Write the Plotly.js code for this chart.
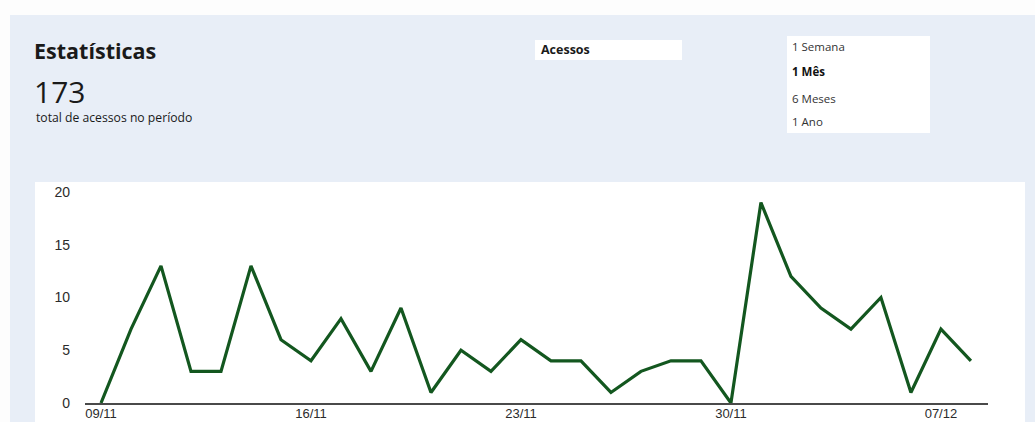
<!DOCTYPE html>
<html>
<head>
<meta charset="utf-8">
<script src="https://cdn.plot.ly/plotly-3.0.1.min.js"></script>
<style>
  html, body { margin: 0; padding: 0; background: #ffffff; }
  #chart { width: 1035px; height: 422px; }
</style>
</head>
<body>
<div id="chart"></div>
<script>
// ---- data ----
const dates = [
  '2023-11-09','2023-11-10','2023-11-11','2023-11-12','2023-11-13','2023-11-14','2023-11-15',
  '2023-11-16','2023-11-17','2023-11-18','2023-11-19','2023-11-20','2023-11-21','2023-11-22',
  '2023-11-23','2023-11-24','2023-11-25','2023-11-26','2023-11-27','2023-11-28','2023-11-29',
  '2023-11-30','2023-12-01','2023-12-02','2023-12-03','2023-12-04','2023-12-05','2023-12-06',
  '2023-12-07','2023-12-08'
];
const acessos = [0, 7, 13, 3, 3, 13, 6, 4, 8, 3, 9, 1, 5, 3, 6, 4, 4, 1, 3, 4, 4, 0, 19, 12, 9, 7, 10, 1, 7, 4];
const yTicks = [0, 5, 10, 15, 20];
const periodOptions = ['1 Semana', '1 Mês', '6 Meses', '1 Ano'];
const selectedPeriod = '1 Mês';
const titleText = 'Estatísticas';
const totalText = '173';
const subtitleText = 'total de acessos no período';
const seriesLabel = 'Acessos';

// ---- layout geometry (pixels) ----
const W = 1035, H = 422;
const M = { l: 85, r: 47, t: 192, b: 19 };
const plotW = W - M.l - M.r, plotH = H - M.t - M.b;
const fx = px => (px - M.l) / plotW;
const fy = py => (H - M.b - py) / plotH;

const headerFont = '"Open Sans", "Noto Sans", sans-serif';
const bg = '#e8eef7';

const shapes = [
  // page light-blue backdrop
  { type: 'rect', xref: 'paper', yref: 'paper', x0: fx(10), x1: fx(1035), y0: fy(422), y1: fy(15),
    fillcolor: bg, line: { width: 0 }, layer: 'below' },
  // white chart panel
  { type: 'rect', xref: 'paper', yref: 'paper', x0: fx(35), x1: fx(1025), y0: fy(422), y1: fy(182),
    fillcolor: '#ffffff', line: { width: 0 }, layer: 'below' },
  // series selector box
  { type: 'rect', xref: 'paper', yref: 'paper', x0: fx(535), x1: fx(682), y0: fy(60), y1: fy(40),
    fillcolor: '#ffffff', line: { width: 0 }, layer: 'below' },
  // period list box
  { type: 'rect', xref: 'paper', yref: 'paper', x0: fx(787), x1: fx(930), y0: fy(133), y1: fy(36),
    fillcolor: '#ffffff', line: { width: 0 }, layer: 'below' }
];

const ann = (text, x, y, size, opts) => Object.assign({
  text: text, xref: 'paper', yref: 'paper', x: fx(x), y: fy(y),
  xanchor: 'left', yanchor: 'middle', showarrow: false,
  font: { family: headerFont, size: size, color: '#1a1a1a' }
}, opts || {});

const annotations = [
  ann('<b>' + titleText + '</b>', 32, 50, 21.5),
  ann(totalText, 32, 91, 30),
  ann(subtitleText, 34, 117, 12.2),
  ann('<b>' + seriesLabel + '</b>', 539, 49, 12.5)
];
const listY = [47, 72, 98, 122];
periodOptions.forEach((p, i) => {
  const t = p === selectedPeriod ? '<b>' + p + '</b>' : p;
  annotations.push(ann(t, 790, listY[i], 11.5, {
    font: { family: headerFont, size: 11.5, color: p === selectedPeriod ? '#111' : '#333' }
  }));
});

const trace = {
  x: dates, y: acessos, type: 'scatter', mode: 'lines',
  line: { color: '#13571f', width: 3.2, shape: 'linear' },
  hoverinfo: 'x+y'
};

const layout = {
  width: W, height: H,
  margin: M,
  paper_bgcolor: '#fdfdfd',
  plot_bgcolor: 'rgba(0,0,0,0)',
  showlegend: false,
  font: { family: '"Liberation Sans", Arial, sans-serif', color: '#333' },
  xaxis: {
    type: 'date',
    range: ['2023-11-08 11:12', '2023-12-08 13:40'],
    tick0: dates[0], dtick: 7 * 86400000,
    tickformat: '%d/%m',
    showgrid: false, zeroline: false,
    showline: true, linecolor: '#4a4a4a', linewidth: 2,
    ticks: '', ticklabelstandoff: -3,
    tickfont: { family: '"Liberation Sans", Arial, sans-serif', size: 13, color: '#2b2b2b' }
  },
  yaxis: {
    range: [0, 20],
    tickvals: yTicks,
    showgrid: false, zeroline: false, showline: false,
    ticks: '', ticklabelstandoff: 14,
    tickfont: { family: '"Liberation Sans", Arial, sans-serif', size: 14, color: '#2b2b2b' }
  },
  shapes: shapes,
  annotations: annotations
};

Plotly.newPlot('chart', [trace], layout, { displayModeBar: false, staticPlot: true });
</script>
</body>
</html>
